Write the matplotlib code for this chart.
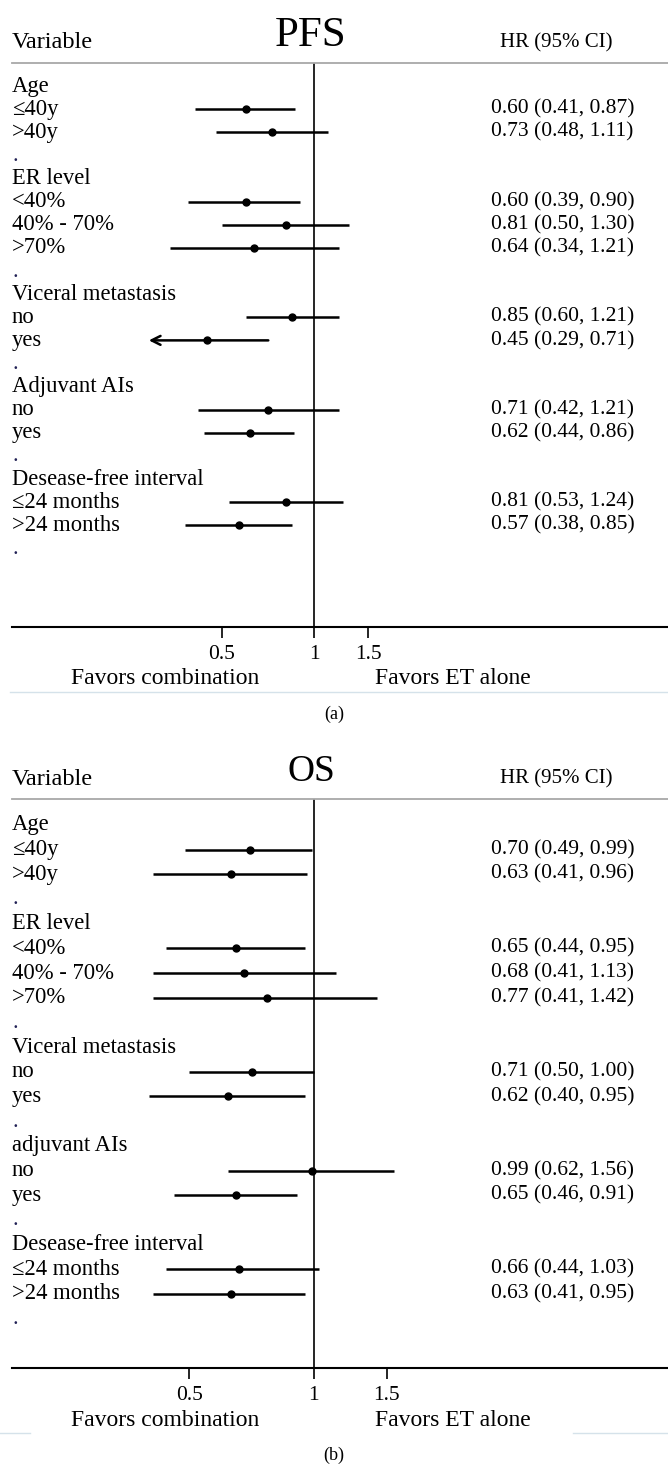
import numpy as np
import matplotlib
matplotlib.use('Agg')
import matplotlib.pyplot as plt
import matplotlib.transforms as mtransforms

plt.rcParams['font.family'] = ['Liberation Serif', 'DejaVu Serif']

# ---- data -------------------------------------------------------------
pfs_labels = ["Age", "\u226440y", ">40y", ".",
              "ER level", "<40%", "40% - 70%", ">70%", ".",
              "Viceral metastasis", "no", "yes", ".",
              "Adjuvant AIs", "no", "yes", ".",
              "Desease-free interval", "\u226424 months", ">24 months", "."]
pfs_hr = [np.nan, 0.60, 0.73, np.nan,
          np.nan, 0.60, 0.81, 0.64, np.nan,
          np.nan, 0.85, 0.45, np.nan,
          np.nan, 0.71, 0.62, np.nan,
          np.nan, 0.81, 0.57, np.nan]
pfs_lo = [np.nan, 0.41, 0.48, np.nan,
          np.nan, 0.39, 0.50, 0.34, np.nan,
          np.nan, 0.60, 0.29, np.nan,
          np.nan, 0.42, 0.44, np.nan,
          np.nan, 0.53, 0.38, np.nan]
pfs_hi = [np.nan, 0.87, 1.11, np.nan,
          np.nan, 0.90, 1.30, 1.21, np.nan,
          np.nan, 1.21, 0.71, np.nan,
          np.nan, 1.21, 0.86, np.nan,
          np.nan, 1.24, 0.85, np.nan]
# rows whose lower CI runs past the plotted range (drawn with an arrow)
pfs_arrow = [11]

os_labels = ["Age", "\u226440y", ">40y", ".",
             "ER level", "<40%", "40% - 70%", ">70%", ".",
             "Viceral metastasis", "no", "yes", ".",
             "adjuvant AIs", "no", "yes", ".",
             "Desease-free interval", "\u226424 months", ">24 months", "."]
os_hr = [np.nan, 0.70, 0.63, np.nan,
         np.nan, 0.65, 0.68, 0.77, np.nan,
         np.nan, 0.71, 0.62, np.nan,
         np.nan, 0.99, 0.65, np.nan,
         np.nan, 0.66, 0.63, np.nan]
os_lo = [np.nan, 0.49, 0.41, np.nan,
         np.nan, 0.44, 0.41, 0.41, np.nan,
         np.nan, 0.50, 0.40, np.nan,
         np.nan, 0.62, 0.46, np.nan,
         np.nan, 0.44, 0.41, np.nan]
os_hi = [np.nan, 0.99, 0.96, np.nan,
         np.nan, 0.95, 1.13, 1.42, np.nan,
         np.nan, 1.00, 0.95, np.nan,
         np.nan, 1.56, 0.91, np.nan,
         np.nan, 1.03, 0.95, np.nan]
os_arrow = []

ticks = [0.5, 1, 1.5]
tick_labels = ["0.5", "1", "1.5"]

# ---- figure -----------------------------------------------------------
W, H = 668, 1467
fig = plt.figure(figsize=(W / 100, H / 100), dpi=100)


def fy(y):
    return 1 - y / H


def fx(x):
    return x / W


def forest(title, labels, hr, lo, hi, arrows, top, bottom, ylim, xlim,
           title_fs, sub, faint):
    ax = fig.add_axes([fx(12), fy(bottom), fx(668 - 12), (bottom - top) / H])
    n = len(labels)
    ys = -np.arange(n)
    ax.set_xscale('log')
    ax.set_xlim(*xlim)
    ax.set_ylim(*ylim)

    for s in ['left', 'right']:
        ax.spines[s].set_visible(False)
    ax.spines['top'].set_color('#a8a8a8')
    ax.spines['top'].set_linewidth(1.3)
    ax.spines['bottom'].set_linewidth(1.5)
    ax.set_yticks([])
    ax.minorticks_off()
    ax.set_xticks(ticks)
    ax.set_xticklabels(tick_labels, fontsize=15.5)
    ax.tick_params(axis='x', length=8, width=1.2, pad=5)

    ax.axvline(1, color='black', lw=1.2)

    tr = mtransforms.blended_transform_factory(ax.transAxes, ax.transData)
    for i, lab in enumerate(labels):
        ax.text(0.0, ys[i], lab, transform=tr, ha='left', va='center',
                fontsize=16.3, color='#222255' if lab == '.' else 'black')
        if np.isnan(hr[i]):
            continue
        if i in arrows:
            ax.annotate('', xy=(lo[i], ys[i]), xytext=(hi[i], ys[i]),
                        arrowprops=dict(arrowstyle='->', lw=1.8,
                                        mutation_scale=16, color='black',
                                        shrinkA=0, shrinkB=0))
        else:
            ax.plot([lo[i], hi[i]], [ys[i], ys[i]], color='black', lw=1.8,
                    solid_capstyle='butt')
        ax.plot(hr[i], ys[i], 'o', color='black', ms=5)
        ax.text(0.730, ys[i], '{:.2f} ({:.2f}, {:.2f})'.format(hr[i], lo[i], hi[i]),
                transform=tr, ha='left', va='center', fontsize=15.5)

    # header
    fig.text(fx(12), fy(top - 20), 'Variable', ha='left', va='center', fontsize=17.5)
    fig.text(fx(311), fy(top - 27), title, ha='center', va='center', fontsize=title_fs)
    fig.text(fx(500), fy(top - 20), 'HR (95% CI)', ha='left', va='center', fontsize=15)

    # footer
    fig.text(fx(165), fy(bottom + 52), 'Favors combination', ha='center',
             va='center', fontsize=17)
    fig.text(fx(453), fy(bottom + 52), 'Favors ET alone', ha='center',
             va='center', fontsize=17)
    for x0, x1 in faint:
        fig.add_artist(plt.Line2D([fx(x0), fx(x1)], [fy(bottom + 65)] * 2,
                                  color='#d5e2ea', lw=1.0))
    fig.text(0.5, fy(bottom + 87), sub, ha='center', va='center', fontsize=13)
    return ax


forest('PFS', pfs_labels, pfs_hr, pfs_lo, pfs_hi, pfs_arrow,
       top=63, bottom=627, ylim=(-23.4, 1.0), xlim=(0.104, 14.2),
       title_fs=31, sub='(a)', faint=[(10, 668)])
forest('OS', os_labels, os_hr, os_lo, os_hi, os_arrow,
       top=799, bottom=1368, ylim=(-22.0, 1.05), xlim=(0.187, 7.15),
       title_fs=27, sub='(b)', faint=[(0, 30), (573, 668)])

fig.savefig('out.png', dpi=100)
